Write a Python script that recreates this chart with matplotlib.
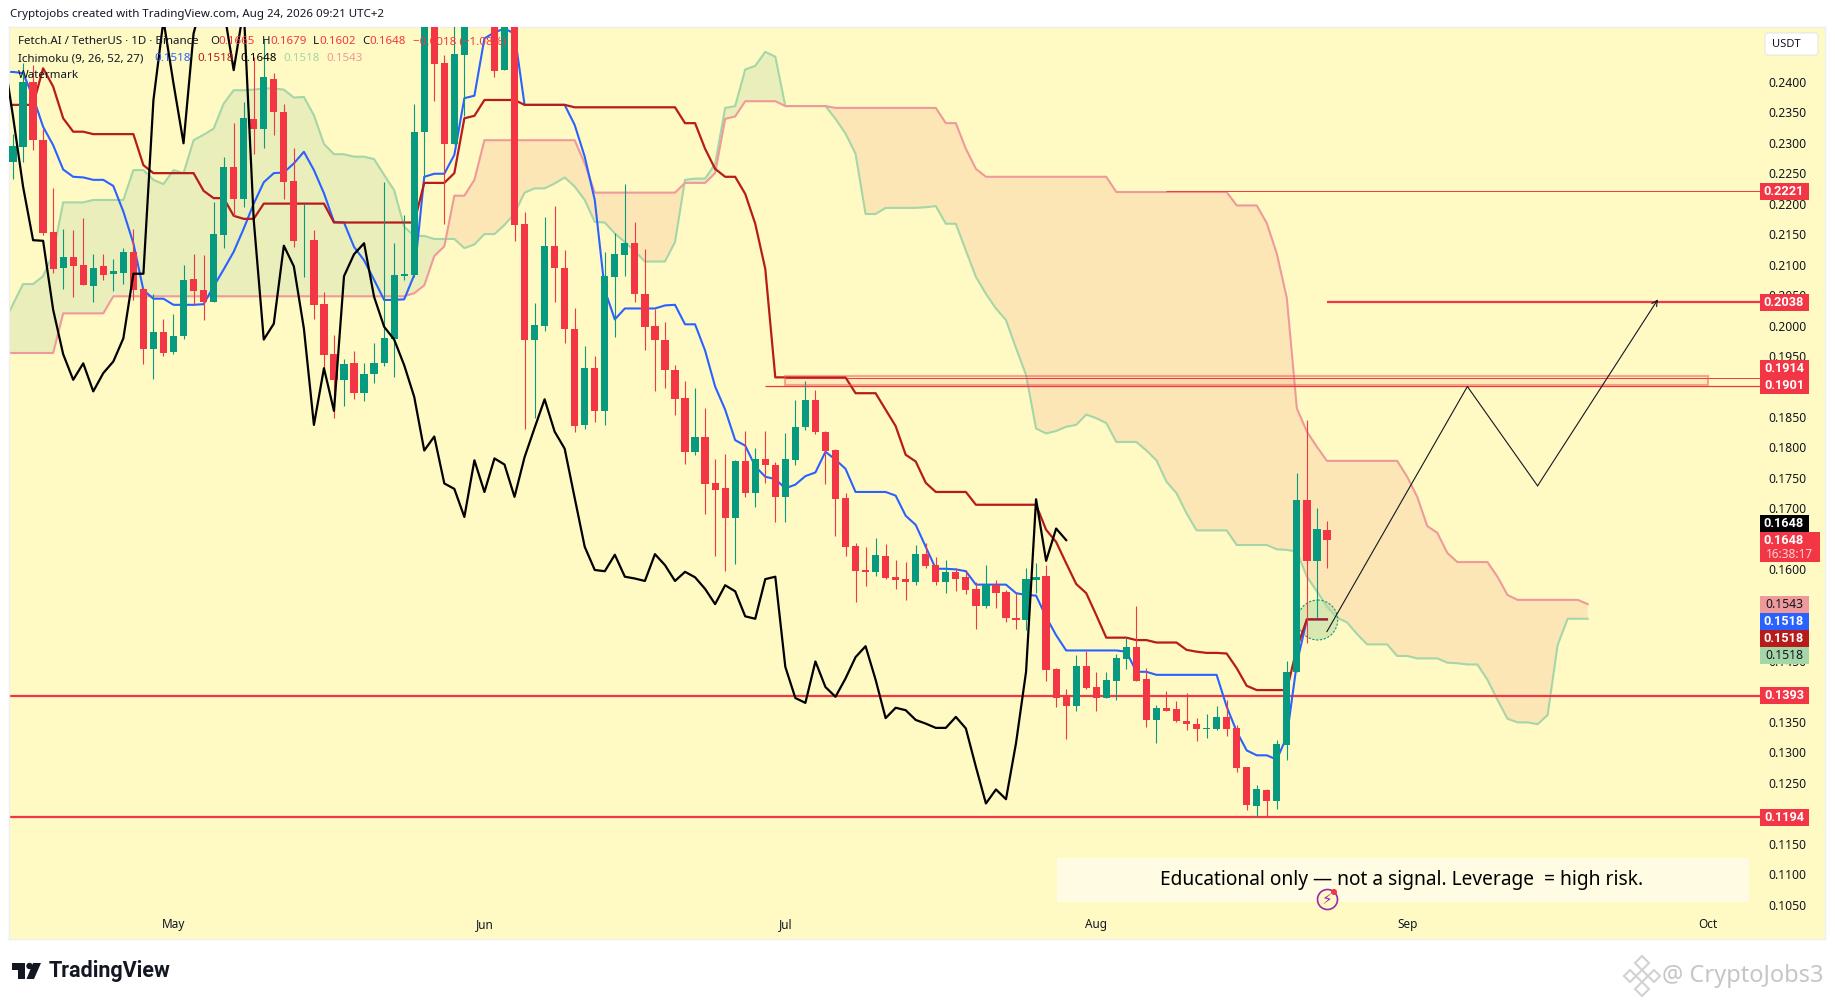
import numpy as np
import matplotlib
matplotlib.use("Agg")
import matplotlib.pyplot as plt
from matplotlib.patches import Rectangle, Circle, FancyBboxPatch, Polygon
from matplotlib.transforms import Affine2D

plt.rcParams['font.family'] = ['Noto Sans', 'DejaVu Sans']

# Candles, first bar is 15 Apr
open_ = [0.2269,0.2293,0.2399,0.2304,0.2153,0.2094,0.2112,0.2099,0.2065,0.2098,
         0.2085,0.2087,0.2121,0.2060,0.1962,0.1989,0.1957,0.1983,0.2076,0.2058,
         0.2039,0.2148,0.2260,0.2208,0.2339,0.2323,0.2405,0.2350,0.2237,0.2138,
         0.2140,0.2035,0.1953,0.1911,0.1938,0.1890,0.1921,0.1938,0.1978,0.2082,
         0.2083,0.2317,0.2530,0.2430,0.2298,0.2444,0.2515,0.2570,0.2545,0.2419,
         0.2540,0.2167,0.1976,0.1999,0.2130,0.2094,0.1995,0.1837,0.1930,0.1860,
         0.2080,0.2116,0.2135,0.2052,0.2000,0.1977,0.1927,0.1881,0.1793,0.1817,
         0.1741,0.1733,0.1684,0.1777,0.1726,0.1781,0.1771,0.1718,0.1780,0.1833,
         0.1878,0.1826,0.1796,0.1717,0.1638,0.1599,0.1596,0.1622,0.1588,0.1584,
         0.1580,0.1625,0.1607,0.1579,0.1596,0.1587,0.1568,0.1540,0.1574,0.1563,
         0.1521,0.1517,0.1583,0.1589,0.1437,0.1391,0.1376,0.1442,0.1407,0.1389,
         0.1417,0.1453,0.1472,0.1420,0.1353,0.1373,0.1371,0.1351,0.1346,0.1338,
         0.1338,0.1358,0.1340,0.1275,0.1212,0.1238,0.1220,0.1312,0.1431,0.1714,
         0.1613,0.1665]
high = [0.2315,0.2430,0.2427,0.2323,0.2225,0.2158,0.2157,0.2176,0.2118,0.2118,
        0.2109,0.2127,0.2158,0.2061,0.2052,0.2010,0.2019,0.2099,0.2117,0.2115,
        0.2203,0.2276,0.2332,0.2367,0.2441,0.2470,0.2414,0.2363,0.2292,0.2200,
        0.2157,0.2055,0.1984,0.1945,0.1958,0.1938,0.1971,0.2236,0.2135,0.2181,
        0.2364,0.2540,0.2560,0.2444,0.2520,0.2530,0.2590,0.2610,0.2590,0.2590,
        0.2570,0.2186,0.2037,0.2178,0.2196,0.2124,0.2028,0.1966,0.1950,0.2121,
        0.2151,0.2232,0.2170,0.2125,0.2027,0.2006,0.1936,0.1909,0.1897,0.1864,
        0.1781,0.1789,0.1780,0.1827,0.1799,0.1827,0.1776,0.1823,0.1878,0.1909,
        0.1894,0.1827,0.1797,0.1726,0.1644,0.1636,0.1651,0.1642,0.1615,0.1612,
        0.1640,0.1644,0.1620,0.1615,0.1603,0.1599,0.1579,0.1607,0.1582,0.1566,
        0.1561,0.1602,0.1610,0.1607,0.1438,0.1403,0.1459,0.1466,0.1432,0.1432,
        0.1462,0.1487,0.1540,0.1438,0.1378,0.1401,0.1384,0.1397,0.1357,0.1363,
        0.1376,0.1385,0.1345,0.1276,0.1246,0.1240,0.1320,0.1450,0.1758,0.1845,
        0.1700,0.1679]
low = [0.2241,0.2269,0.2288,0.2148,0.2086,0.2060,0.2047,0.2066,0.2039,0.2074,
       0.2057,0.2068,0.2042,0.1937,0.1912,0.1950,0.1954,0.1978,0.2034,0.2009,
       0.2039,0.2128,0.2179,0.2195,0.2282,0.2292,0.2312,0.2208,0.2129,0.2080,
       0.2011,0.1931,0.1849,0.1868,0.1879,0.1877,0.1905,0.1933,0.1915,0.2074,
       0.2080,0.2244,0.2368,0.2166,0.2298,0.2343,0.2495,0.2510,0.2408,0.2419,
       0.2138,0.1830,0.1848,0.1991,0.2039,0.1971,0.1825,0.1831,0.1842,0.1837,
       0.1982,0.2082,0.2039,0.1960,0.1892,0.1898,0.1853,0.1773,0.1788,0.1691,
       0.1622,0.1598,0.1609,0.1718,0.1703,0.1742,0.1677,0.1678,0.1771,0.1828,
       0.1822,0.1740,0.1654,0.1622,0.1547,0.1573,0.1589,0.1585,0.1568,0.1549,
       0.1575,0.1602,0.1575,0.1562,0.1565,0.1559,0.1503,0.1537,0.1537,0.1514,
       0.1502,0.1501,0.1561,0.1417,0.1375,0.1322,0.1367,0.1403,0.1368,0.1389,
       0.1386,0.1437,0.1417,0.1342,0.1315,0.1367,0.1350,0.1337,0.1319,0.1324,
       0.1337,0.1327,0.1267,0.1205,0.1193,0.1193,0.1207,0.1287,0.1431,0.1479,
       0.1520,0.1602]
close = [0.2295,0.2399,0.2304,0.2152,0.2093,0.2112,0.2097,0.2066,0.2095,0.2083,
         0.2089,0.2121,0.2059,0.1962,0.1989,0.1955,0.1983,0.2075,0.2057,0.2039,
         0.2150,0.2260,0.2208,0.2340,0.2323,0.2407,0.2351,0.2236,0.2139,0.2139,
         0.2034,0.1952,0.1910,0.1937,0.1890,0.1921,0.1939,0.1980,0.2083,0.2084,
         0.2317,0.2510,0.2429,0.2298,0.2445,0.2515,0.2570,0.2530,0.2418,0.2560,
         0.2165,0.1976,0.2001,0.2130,0.2094,0.1994,0.1836,0.1930,0.1859,0.2081,
         0.2117,0.2135,0.2052,0.1998,0.1976,0.1927,0.1880,0.1793,0.1817,0.1740,
         0.1730,0.1684,0.1778,0.1726,0.1781,0.1771,0.1718,0.1781,0.1833,0.1878,
         0.1825,0.1794,0.1715,0.1636,0.1598,0.1595,0.1624,0.1586,0.1583,0.1580,
         0.1625,0.1606,0.1579,0.1596,0.1585,0.1566,0.1540,0.1574,0.1562,0.1520,
         0.1517,0.1584,0.1587,0.1435,0.1389,0.1376,0.1442,0.1405,0.1389,0.1419,
         0.1455,0.1472,0.1417,0.1353,0.1373,0.1368,0.1351,0.1346,0.1338,0.1340,
         0.1358,0.1338,0.1274,0.1214,0.1240,0.1220,0.1314,0.1432,0.1714,0.1613,
         0.1666,0.1648]

# Ichimoku lines, these start one bar before the first candle (off the left edge)
tenkan = [0.2416,
          0.2416,0.2414,0.2375,0.2326,0.2296,0.2256,0.2244,0.2243,0.2239,0.2239,
          0.2229,0.2187,0.2135,0.2058,0.2044,0.2044,0.2034,0.2034,0.2034,0.2035,
          0.2064,0.2092,0.2121,0.2159,0.2200,0.2235,0.2250,0.2251,0.2266,0.2285,
          0.2255,0.2217,0.2170,0.2169,0.2129,0.2107,0.2075,0.2042,0.2042,0.2043,
          0.2083,0.2244,0.2249,0.2249,0.2280,0.2373,0.2377,0.2471,0.2481,0.2487,
          0.2479,0.2362,0.2362,0.2362,0.2362,0.2362,0.2329,0.2277,0.2206,0.2058,
          0.2010,0.2028,0.2028,0.2028,0.2028,0.2033,0.2034,0.2002,0.2002,0.1959,
          0.1900,0.1862,0.1812,0.1803,0.1769,0.1752,0.1748,0.1733,0.1739,0.1753,
          0.1759,0.1793,0.1780,0.1765,0.1727,0.1727,0.1727,0.1727,0.1721,0.1688,
          0.1673,0.1637,0.1601,0.1601,0.1600,0.1597,0.1575,0.1575,0.1575,0.1575,
          0.1561,0.1558,0.1557,0.1522,0.1492,0.1467,0.1467,0.1467,0.1467,0.1467,
          0.1467,0.1465,0.1432,0.1432,0.1427,0.1427,0.1427,0.1427,0.1427,0.1427,
          0.1427,0.1375,0.1334,0.1303,0.1295,0.1295,0.1288,0.1326,0.1446,0.1518,
          0.1518,0.1518]
kijun = [0.2362,
         0.2362,0.2362,0.2362,0.2422,0.2392,0.2340,0.2318,0.2318,0.2314,0.2314,
         0.2314,0.2314,0.2314,0.2263,0.2250,0.2250,0.2250,0.2250,0.2250,0.2221,
         0.2209,0.2209,0.2180,0.2175,0.2175,0.2200,0.2200,0.2200,0.2200,0.2200,
         0.2200,0.2200,0.2169,0.2169,0.2169,0.2169,0.2169,0.2169,0.2169,0.2169,
         0.2169,0.2234,0.2234,0.2234,0.2250,0.2340,0.2344,0.2370,0.2370,0.2370,
         0.2370,0.2362,0.2362,0.2362,0.2362,0.2362,0.2358,0.2358,0.2358,0.2358,
         0.2358,0.2358,0.2358,0.2358,0.2358,0.2358,0.2358,0.2332,0.2332,0.2290,
         0.2257,0.2244,0.2244,0.2216,0.2167,0.2093,0.1915,0.1915,0.1915,0.1915,
         0.1915,0.1915,0.1915,0.1915,0.1889,0.1889,0.1889,0.1862,0.1835,0.1788,
         0.1777,0.1742,0.1727,0.1727,0.1727,0.1727,0.1706,0.1706,0.1706,0.1706,
         0.1706,0.1706,0.1706,0.1665,0.1645,0.1610,0.1576,0.1561,0.1525,0.1488,
         0.1488,0.1488,0.1484,0.1484,0.1480,0.1480,0.1480,0.1468,0.1465,0.1463,
         0.1463,0.1462,0.1438,0.1409,0.1402,0.1402,0.1402,0.1402,0.1471,0.1518,
         0.1518,0.1518]
chikou = [0.2450,
          0.2343,0.2228,0.2140,0.2139,0.2026,0.1953,0.1911,0.1938,0.1892,0.1922,
          0.1941,0.1979,0.2085,0.2085,0.2370,0.2501,0.2397,0.2299,0.2479,0.2540,
          0.2560,0.2520,0.2419,0.2520,0.2173,0.1977,0.2003,0.2131,0.2097,0.1995,
          0.1837,0.1930,0.1860,0.2081,0.2117,0.2135,0.2047,0.1998,0.1977,0.1935,
          0.1883,0.1795,0.1818,0.1741,0.1732,0.1686,0.1779,0.1727,0.1782,0.1772,
          0.1719,0.1784,0.1832,0.1879,0.1826,0.1798,0.1717,0.1637,0.1599,0.1597,
          0.1624,0.1588,0.1585,0.1581,0.1625,0.1607,0.1581,0.1596,0.1587,0.1568,
          0.1543,0.1574,0.1564,0.1523,0.1519,0.1584,0.1588,0.1440,0.1389,0.1381,
          0.1449,0.1407,0.1391,0.1421,0.1456,0.1474,0.1419,0.1356,0.1373,0.1369,
          0.1353,0.1347,0.1340,0.1340,0.1358,0.1339,0.1276,0.1216,0.1239,0.1223,
          0.1315,0.1432,0.1715,0.1614,0.1667,0.1648]
span_a = [0.2001,
          0.2035,0.2068,0.2068,0.2081,0.2118,0.2202,0.2202,0.2202,0.2206,0.2206,
          0.2206,0.2206,0.2255,0.2255,0.2239,0.2232,0.2255,0.2250,0.2304,0.2313,
          0.2323,0.2364,0.2386,0.2386,0.2387,0.2389,0.2389,0.2387,0.2374,0.2375,
          0.2345,0.2298,0.2281,0.2281,0.2277,0.2277,0.2273,0.2247,0.2222,0.2162,
          0.2147,0.2147,0.2142,0.2142,0.2142,0.2127,0.2133,0.2150,0.2150,0.2165,
          0.2184,0.2218,0.2225,0.2225,0.2233,0.2243,0.2228,0.2206,0.2170,0.2169,
          0.2151,0.2137,0.2122,0.2105,0.2105,0.2105,0.2137,0.2239,0.2241,0.2241,
          0.2265,0.2357,0.2360,0.2420,0.2426,0.2449,0.2441,0.2360,0.2360,0.2360,
          0.2360,0.2360,0.2339,0.2315,0.2282,0.2183,0.2183,0.2193,0.2193,0.2193,
          0.2193,0.2194,0.2196,0.2167,0.2167,0.2123,0.2080,0.2052,0.2028,0.2009,
          0.1963,0.1919,0.1831,0.1823,0.1827,0.1834,0.1837,0.1854,0.1848,0.1840,
          0.1809,0.1809,0.1809,0.1795,0.1779,0.1744,0.1725,0.1692,0.1664,0.1664,
          0.1664,0.1664,0.1640,0.1640,0.1640,0.1640,0.1633,0.1632,0.1629,0.1588,
          0.1564,0.1539,0.1521,0.1513,0.1494,0.1477,0.1477,0.1477,0.1458,0.1458,
          0.1454,0.1454,0.1454,0.1447,0.1446,0.1444,0.1444,0.1419,0.1386,0.1355,
          0.1349,0.1349,0.1346,0.1361,0.1476,0.1519,0.1519,0.1519]
span_b = [0.1955,
          0.1955,0.1955,0.1955,0.1955,0.1955,0.2020,0.2020,0.2020,0.2020,0.2020,
          0.2048,0.2048,0.2048,0.2048,0.2048,0.2048,0.2048,0.2048,0.2048,0.2048,
          0.2048,0.2048,0.2048,0.2048,0.2048,0.2048,0.2048,0.2048,0.2048,0.2048,
          0.2048,0.2048,0.2048,0.2048,0.2048,0.2048,0.2048,0.2048,0.2048,0.2048,
          0.2053,0.2066,0.2114,0.2130,0.2213,0.2213,0.2239,0.2304,0.2304,0.2304,
          0.2304,0.2304,0.2304,0.2304,0.2304,0.2304,0.2304,0.2266,0.2218,0.2218,
          0.2218,0.2218,0.2218,0.2218,0.2218,0.2218,0.2218,0.2234,0.2234,0.2234,
          0.2250,0.2339,0.2343,0.2368,0.2368,0.2368,0.2368,0.2360,0.2360,0.2360,
          0.2360,0.2360,0.2357,0.2357,0.2357,0.2357,0.2357,0.2357,0.2357,0.2357,
          0.2357,0.2357,0.2357,0.2332,0.2332,0.2290,0.2257,0.2244,0.2244,0.2244,
          0.2244,0.2244,0.2244,0.2244,0.2244,0.2244,0.2244,0.2244,0.2244,0.2244,
          0.2219,0.2219,0.2219,0.2219,0.2219,0.2219,0.2219,0.2219,0.2219,0.2219,
          0.2219,0.2219,0.2197,0.2197,0.2197,0.2168,0.2118,0.2045,0.1864,0.1826,
          0.1801,0.1778,0.1778,0.1778,0.1778,0.1778,0.1778,0.1778,0.1778,0.1752,
          0.1719,0.1671,0.1660,0.1627,0.1612,0.1612,0.1612,0.1612,0.1588,0.1558,
          0.1550,0.1550,0.1550,0.1550,0.1550,0.1550,0.1550,0.1543]

# Drawn levels and the projected path (day 0 is 1 May)
resistance_1 = 0.2221
resistance_2 = 0.2039
zone_top = 0.1917
zone_line = 0.1914
zone_bottom = 0.1903
zone_line_2 = 0.1901
support_1 = 0.1393
support_2 = 0.1194
path_days = [115, 129, 136, 148]
path_prices = [0.1498, 0.1900, 0.1737, 0.2043]

price_ticks = [0.105, 0.110, 0.115, 0.120, 0.125, 0.130, 0.135, 0.140, 0.145, 0.150,
               0.155, 0.160, 0.165, 0.170, 0.175, 0.180, 0.185, 0.190, 0.195, 0.200,
               0.205, 0.210, 0.215, 0.220, 0.225, 0.230, 0.235, 0.240]
month_days = [0, 31, 61, 92, 123, 153]
month_labels = ["May", "Jun", "Jul", "Aug", "Sep", "Oct"]

BG = "#FFF9C4"
UP = "#089981"
DOWN = "#F23645"
TENKAN = "#2962FF"
KIJUN = "#B71C1C"
SPAN_A = "#A5D6A7"
SPAN_B = "#EF9A9A"
INK = "#131722"
BOLD_FONT = ["Roboto", "DejaVu Sans"]

fig = plt.figure(figsize=(18.35, 10), dpi=100, facecolor="white")
ax = fig.add_axes([8.5 / 1835, 61 / 1000, 1816.5 / 1835, 912 / 1000], facecolor=BG)
ax.set_xlim((8.5 - 173.5) / 10.03, (1825 - 173.5) / 10.03)
ax.set_ylim(0.24 + (81.7 - 939) / 6096, 0.24 + (81.7 - 27) / 6096)

# pixel coordinates, y going down, for the overlays that are not data
PX = Affine2D().scale(1, -1).translate(0, 1000)

candle_days = np.arange(len(close)) - 16
line_days = np.arange(len(span_a)) - 17

open_arr = np.array(open_)
close_arr = np.array(close)
colors = np.where(close_arr >= open_arr, UP, DOWN)

# cloud
a = np.array(span_a)
b = np.array(span_b)
ax.fill_between(line_days, a, b, where=a >= b, interpolate=True, color="#E9EEBB", lw=0, zorder=1)
ax.fill_between(line_days, a, b, where=a <= b, interpolate=True, color="#FDE6B6", lw=0, zorder=1)
ax.plot(line_days, a, color=SPAN_A, lw=1.5, zorder=1.5)
ax.plot(line_days, b, color=SPAN_B, lw=1.5, zorder=1.5)

# circle around the kijun touch
ax.add_patch(Circle((1317.7, 620), 20, transform=PX, fc=(0.70, 0.85, 0.62, 0.5), ec=UP,
                    lw=0.8, ls=(0, (2, 1.5)), zorder=1.8))

# levels
right = 159
ax.hlines(resistance_1, 99, right, color=DOWN, lw=0.7, zorder=2)
ax.hlines(resistance_2, 115, right, color=DOWN, lw=1.6, zorder=2)
ax.hlines(zone_line, 61, right, color=DOWN, lw=0.7, zorder=2)
ax.hlines(zone_line_2, 59, right, color=DOWN, lw=0.9, zorder=2)
ax.hlines([support_1, support_2], -17, right, color=DOWN, lw=1.6, zorder=2)

ax.plot(line_days[:len(tenkan)], tenkan, color=TENKAN, lw=1.5, zorder=2.2)
ax.plot(line_days[:len(kijun)], kijun, color=KIJUN, lw=1.6, zorder=2.3)

ax.vlines(candle_days, low, high, colors=colors, lw=0.8, zorder=3)
ax.bar(candle_days, close_arr - open_arr, bottom=open_arr, width=0.72, color=colors, lw=0, zorder=3.1)

ax.plot(line_days[:len(chikou)], chikou, color="black", lw=1.6, zorder=3.5)

ax.add_patch(Rectangle((61, zone_bottom), 92, zone_top - zone_bottom,
                       fc=(0.95, 0.21, 0.27, 0.07), ec=(0.95, 0.35, 0.30, 0.5), lw=1.5, zorder=4))

# projected path
ax.plot(path_days[:3], path_prices[:3], color=INK, lw=0.8, zorder=4.5)
ax.annotate("", xy=(path_days[3], path_prices[3]), xytext=(path_days[2], path_prices[2]),
            arrowprops=dict(arrowstyle="->", color=INK, lw=0.8, shrinkA=0, shrinkB=0, mutation_scale=10),
            zorder=4.5)

# axis labels live inside the plot, like on the TradingView chart
ax.yaxis.tick_right()
ax.set_yticks(price_ticks)
ax.set_yticklabels(["%.4f" % p for p in price_ticks])
ax.set_xticks(month_days)
ax.set_xticklabels(month_labels)
ax.tick_params(axis="y", length=0, pad=-41, labelsize=8.8, labelcolor=INK)
ax.tick_params(axis="x", length=0, pad=-15, labelsize=8.5, labelcolor=INK)
for s in ax.spines.values():
    s.set_color("#EFEFEF")
    s.set_linewidth(1)

# price tags
def tag(y, label, bg, fg="white", h=17):
    ax.add_patch(Rectangle((1760, y - h / 2), 48.5, h, transform=PX, fc=bg, ec="none", zorder=6, clip_on=False))
    if fg == "white":
        ax.text(1784, y, label, transform=PX, color=fg, ha="center", va="center", fontsize=9.2,
                family=BOLD_FONT, fontweight="bold", zorder=6.1)
    else:
        ax.text(1784, y, label, transform=PX, color=fg, ha="center", va="center", fontsize=8.8, zorder=6.1)

tag(191.7, "0.2221", DOWN)
tag(302.7, "0.2038", DOWN)
tag(368.7, "0.1914", DOWN)
tag(385.7, "0.1901", DOWN)
tag(523.3, "0.1648", "black")
ax.add_patch(Rectangle((1760, 532.3), 60, 30, transform=PX, fc=DOWN, ec="none", zorder=6))
ax.text(1784, 540.5, "0.1648", transform=PX, color="white", ha="center", va="center", fontsize=9.2,
        family=BOLD_FONT, fontweight="bold", zorder=6.1)
ax.text(1789, 554.5, "16:38:17", transform=PX, color="#FFD5D5", ha="center", va="center", fontsize=8.5, zorder=6.1)
tag(604.3, "0.1543", SPAN_B, INK)
tag(621.5, "0.1518", TENKAN)
tag(638.3, "0.1518", KIJUN)
tag(655.3, "0.1518", SPAN_A, INK)
tag(695.3, "0.1393", DOWN)
tag(817.7, "0.1194", DOWN)

# currency button
ax.add_patch(FancyBboxPatch((1765, 33), 53, 22, boxstyle="round,pad=0,rounding_size=3", transform=PX,
                            fc="white", ec="#E6E6E6", lw=0.8, zorder=6))
ax.text(1772, 44.5, "USDT", transform=PX, color=INK, ha="left", va="center", fontsize=8, zorder=6.1)

# disclaimer box
ax.add_patch(Rectangle((1057, 858), 692, 43.7, transform=PX, fc="#FFFCE3", ec="none", zorder=6))
ax.text(1402, 880.5, "Educational only \u2014 not a signal. Leverage  = high risk.", transform=PX, color="black",
        ha="center", va="center", fontsize=13.8, zorder=6.1)

# purple badge
ax.add_patch(Circle((1327.5, 899.5), 10, transform=PX, fc=BG, ec="#9C27B0", lw=1.2, zorder=6.2))
ax.text(1327.5, 899.5, "\u26A1", transform=PX, color="#9C27B0", ha="center", va="center", fontsize=11,
        family=["DejaVu Sans"], zorder=6.3)
ax.add_patch(Circle((1334, 892), 3, transform=PX, fc=DOWN, ec="none", zorder=6.4))

# legend rows
def legend(x, y, s, c=INK):
    ax.text(x, y, s, transform=PX, color=c, ha="left", va="center", fontsize=8.3, zorder=7)

legend(18, 41.7, "Fetch.AI / TetherUS \u00b7 1D \u00b7 Binance")
legend(210.7, 41.7, "O")
legend(218.6, 41.7, "0.1665", DOWN)
legend(262, 41.7, "H")
legend(270, 41.7, "0.1679", DOWN)
legend(313, 41.7, "L")
legend(319, 41.7, "0.1602", DOWN)
legend(362.5, 41.7, "C")
legend(369.6, 41.7, "0.1648", DOWN)
legend(412.6, 41.7, "\u22120.0018 (\u22121.08%)", DOWN)
legend(18, 58.7, "Ichimoku (9, 26, 52, 27)")
legend(154, 58.7, "0.1518", TENKAN)
legend(197.6, 58.7, "0.1518", KIJUN)
legend(240, 58.7, "0.1648", "black")
legend(283, 58.7, "0.1518", SPAN_A)
legend(326.5, 58.7, "0.1543", SPAN_B)
legend(18, 76, "Watermark")

# header and footer
ax.text(10, 15, "Cryptojobs created with TradingView.com, Aug 24, 2026 09:21 UTC+2", transform=PX, color=INK,
        ha="left", va="center", fontsize=8.3, clip_on=False)

ax.add_patch(Rectangle((12, 963), 12.5, 6.5, transform=PX, fc=INK, ec="none", clip_on=False))
ax.add_patch(Rectangle((18, 963), 6.5, 16, transform=PX, fc=INK, ec="none", clip_on=False))
ax.add_patch(Circle((29.5, 966), 3.2, transform=PX, fc=INK, ec="none", clip_on=False))
ax.add_patch(Polygon([(33, 963), (41, 963), (34, 979), (26.5, 979)], transform=PX, fc=INK, ec="none", clip_on=False))
ax.text(49, 970.5, "TradingView", transform=PX, color=INK, ha="left", va="center", fontsize=15.5,
        family=BOLD_FONT, fontweight="bold", clip_on=False)

# site watermark
for cx, cy, r in [(1642, 963, 7), (1642, 989, 7), (1630, 976, 6), (1654, 976, 6), (1642, 976, 6)]:
    ax.add_patch(Polygon([(cx, cy - r), (cx + r, cy), (cx, cy + r), (cx - r, cy)], transform=PX, fc="none",
                         ec="#D2D2D2", lw=1.5, clip_on=False))
ax.text(1662, 976, "@ CryptoJobs3", transform=PX, color="#C6C6C6", ha="left", va="center", fontsize=17,
        clip_on=False)

fig.savefig("out.png", dpi=100, facecolor="white")
